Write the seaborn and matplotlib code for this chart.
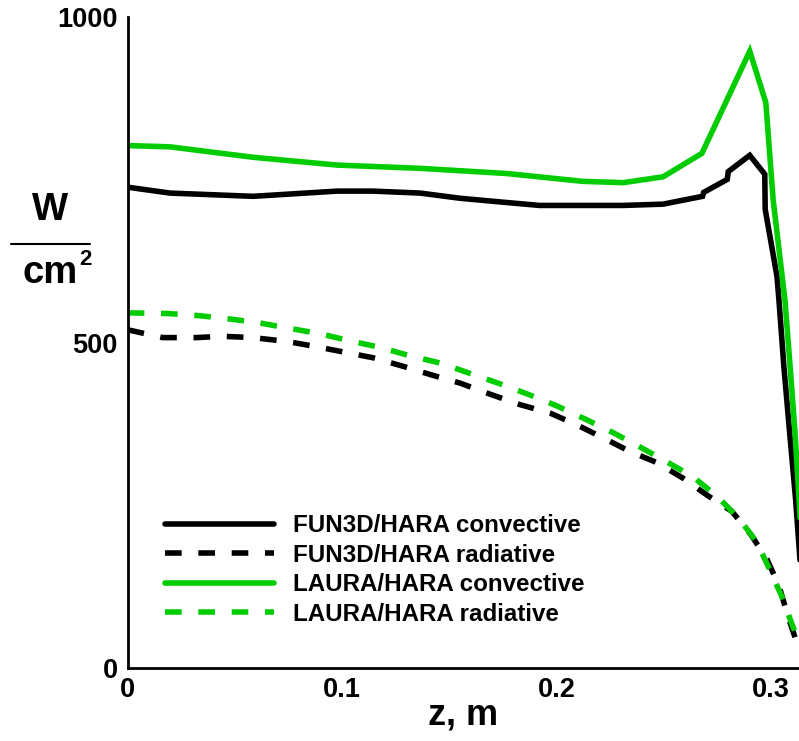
import matplotlib
matplotlib.use("Agg")
import matplotlib.pyplot as plt
import seaborn as sns
import numpy as np
import pandas as pd
from matplotlib.lines import Line2D
from matplotlib.ticker import MultipleLocator

# ---------------- data ----------------
fun3d_conv_z = [0.0, 0.0197, 0.0584, 0.0976, 0.1144, 0.1363, 0.155, 0.175, 0.192,
                0.231, 0.2496, 0.268, 0.2685, 0.2795, 0.280, 0.290, 0.297, 0.2972,
                0.3027, 0.3036, 0.3059, 0.3086, 0.3114, 0.3142, 0.317]
fun3d_conv_q = [739, 730, 725, 733, 733, 730, 722, 716, 711,
                711, 713, 725, 731, 751, 763, 788, 759, 705,
                602, 566, 464, 362, 259, 131, 0]

fun3d_rad_z = [0.0, 0.0163, 0.032, 0.044, 0.0584, 0.0743, 0.0864, 0.1004, 0.1144,
               0.1283, 0.1423, 0.155, 0.169, 0.1829, 0.1969, 0.2094, 0.2216, 0.2342,
               0.2467, 0.2589, 0.2701, 0.2817, 0.2906, 0.2981, 0.3037, 0.3079,
               0.3126, 0.316]
fun3d_rad_q = [520, 508, 508, 510, 508, 502, 495, 486, 477,
               464, 450, 438, 421, 405, 392, 374, 354, 333,
               316, 292, 266, 241, 205, 167, 126, 79,
               33, 0]

laura_conv_z = [0.0, 0.0197, 0.0584, 0.0976, 0.1363, 0.1768, 0.2122, 0.231, 0.2496,
                0.2677, 0.290, 0.2975, 0.3009, 0.3064, 0.3088, 0.3111, 0.313, 0.317]
laura_conv_q = [803, 801, 785, 773, 768, 760, 748, 746, 755,
                791, 948, 869, 720, 566, 464, 362, 259, 0]

laura_rad_z = [0.0, 0.0184, 0.0323, 0.0467, 0.0607, 0.0757, 0.0896, 0.1036, 0.1176,
               0.1316, 0.1456, 0.1736, 0.1866, 0.2001, 0.2132, 0.2263, 0.2388, 0.2514,
               0.2636, 0.2752, 0.2855, 0.2934, 0.2994, 0.305, 0.3102, 0.316]
laura_rad_q = [546, 545, 542, 537, 531, 522, 514, 503, 493,
               480, 469, 437, 421, 403, 383, 362, 340, 317,
               294, 263, 228, 193, 151, 110, 63, 20]

labels = ["FUN3D/HARA convective", "FUN3D/HARA radiative",
          "LAURA/HARA convective", "LAURA/HARA radiative"]
x_ticks = [0, 0.1, 0.2, 0.3]
x_tick_labels = ["0", "0.1", "0.2", "0.3"]
y_ticks = [0, 500, 1000]
y_tick_labels = ["0", "500", "1000"]

# ---------------- style ----------------
sns.set_style("white")
plt.rcParams["font.family"] = ["Liberation Sans", "DejaVu Sans"]
plt.rcParams["font.weight"] = "bold"
plt.rcParams["text.color"] = "black"
plt.rcParams["axes.labelcolor"] = "black"
plt.rcParams["xtick.color"] = "black"
plt.rcParams["ytick.color"] = "black"

GREEN = "#00CC00"
LW = 4.0
DASH = (0, (3, 3))

fig = plt.figure(figsize=(7.99, 7.41), dpi=100)
W, H = 799, 741
ax_left = 127.7 / W
ax_bottom = (H - 668.3) / H
ax_height = (668.3 - 17.3) / H
ax = fig.add_axes([ax_left, ax_bottom, 1.0 - ax_left, ax_height])

series = [
    (fun3d_conv_z, fun3d_conv_q, "black", "solid"),
    (fun3d_rad_z, fun3d_rad_q, "black", "dashed"),
    (laura_conv_z, laura_conv_q, GREEN, "solid"),
    (laura_rad_z, laura_rad_q, GREEN, "dashed"),
]
handles = []
for (zz, qq, col, ls), lab in zip(series, labels):
    df = pd.DataFrame({"z": zz, "q": qq})
    sns.lineplot(data=df, x="z", y="q", ax=ax, color=col, lw=LW, sort=False,
                 estimator=None, legend=False)
    ln = ax.lines[-1]
    if ls == "dashed":
        ln.set_linestyle(DASH)
        ln.set_dash_capstyle("butt")
    else:
        ln.set_solid_joinstyle("miter")
    handles.append(Line2D([], [], color=col, lw=LW,
                          linestyle=(DASH if ls == "dashed" else "-"),
                          dash_capstyle="butt"))

ax.set_xlim(0, (799 - 127.7) / 2145)
ax.set_ylim(0, 1000)
ax.set_xticks(x_ticks)
ax.set_xticklabels(x_tick_labels)
ax.set_yticks(y_ticks)
ax.set_yticklabels(y_tick_labels)
ax.yaxis.set_minor_locator(MultipleLocator(100))

for s in ["top", "right"]:
    ax.spines[s].set_visible(False)
for s in ["left", "bottom"]:
    ax.spines[s].set_linewidth(2.0)
    ax.spines[s].set_color("black")

ax.tick_params(axis="both", which="major", direction="in", length=10.8, width=1.8,
               labelsize=19.5, colors="black")
ax.tick_params(axis="y", which="major", pad=7.0)
ax.tick_params(axis="x", which="major", pad=6.0)
ax.tick_params(axis="y", which="minor", direction="in", length=5.8, width=1.0,
               colors="black")
for t in ax.get_xticklabels() + ax.get_yticklabels():
    t.set_fontweight("bold")
    t.set_color("black")

ax.set_xlabel("")
ax.set_ylabel("")

# x label
fig.text(463 / W, 1 - 724 / H, "z, m", ha="center", va="baseline",
         fontsize=26, fontweight="bold", color="black")

# y label as a fraction W / cm^2
fig.text(50 / W, 1 - 210 / H, "W", ha="center", va="center",
         fontsize=27.5, fontweight="bold", color="black")
fig.add_artist(Line2D([11 / W, 90 / W], [1 - 244 / H, 1 - 244 / H],
                      color="black", lw=1.5, transform=fig.transFigure))
fig.text(50 / W, 1 - 283 / H, "cm", ha="center", va="baseline",
         fontsize=27.5, fontweight="bold", color="black")
fig.text(79 / W, 1 - 249 / H, "2", ha="left", va="top",
         fontsize=16, fontweight="bold", color="black")

# legend
FS_LEG = 17.4
leg = ax.legend(handles, labels, loc="upper left",
                bbox_to_anchor=((165 - 127.7) / 671, (668.3 - 514) / 651),
                frameon=False, handlelength=4.5,
                handletextpad=0.78, labelspacing=0.27, borderpad=0,
                borderaxespad=0, prop={"weight": "bold", "size": FS_LEG})
for t in leg.get_texts():
    t.set_color("black")

fig.savefig("out.png", dpi=100)
